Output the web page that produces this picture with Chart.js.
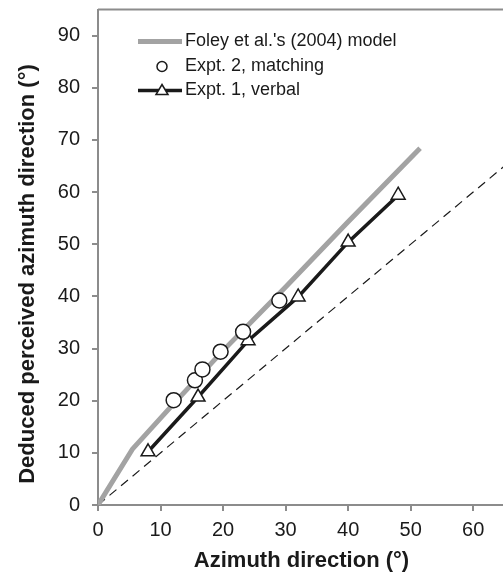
<!DOCTYPE html>
<html>
<head>
<meta charset="utf-8">
<script src="https://cdn.jsdelivr.net/npm/chart.js@4"></script>
<style>
  html, body { margin: 0; padding: 0; background: #fff; overflow: hidden; }
  #wrap { width: 503px; height: 574px; overflow: hidden; }
</style>
</head>
<body>
<div id="wrap"><canvas id="c" width="514" height="574"></canvas></div>
<script>
// ---- data ----
const xTicks = [0, 10, 20, 30, 40, 50, 60];
const yTicks = [0, 10, 20, 30, 40, 50, 60, 70, 80, 90];

const modelX = [0, 5.5, 12, 20, 30, 40, 51.5];          // Foley et al.'s (2004) model
const modelY = [0, 10.7, 19.3, 29.6, 41.8, 54.3, 68.4];

const matchX = [12.1, 15.5, 16.7, 19.6, 23.2, 29.0];    // Expt. 2, matching
const matchY = [20.1, 23.9, 26.0, 29.4, 33.2, 39.2];

const verbalX = [8, 16, 24, 32, 40, 48];                // Expt. 1, verbal
const verbalY = [10.2, 20.7, 31.5, 39.9, 50.4, 59.4];

const identX = [0, 65];                                  // y = x reference
const identY = [0, 65];

const AXIS = "#8c8c8c";
const INK = "#1a1a1a";
const FONT = "'Liberation Sans', Arial, sans-serif";

const pts = (xs, ys) => xs.map((x, i) => ({ x, y: ys[i] }));

// frame, axis titles and legend drawn on top of the chart
const decor = {
    id: "decor",
    afterDraw(chart) {
        const { ctx, chartArea: a } = chart;
        ctx.save();
        ctx.strokeStyle = AXIS;
        ctx.lineWidth = 2;
        ctx.beginPath();
        ctx.moveTo(a.left, a.top);
        ctx.lineTo(a.right, a.top);
        ctx.lineTo(a.right, a.bottom);
        ctx.stroke();

        // axis titles
        ctx.fillStyle = INK;
        ctx.font = "bold 22px " + FONT;
        ctx.textAlign = "center";
        ctx.textBaseline = "alphabetic";
        ctx.fillText("Azimuth direction (°)", (a.left + 505) / 2, 567);
        ctx.save();
        ctx.translate(34, 274);
        ctx.rotate(-Math.PI / 2);
        ctx.fillText("Deduced perceived azimuth direction (°)", 0, 0);
        ctx.restore();

        // legend
        const rows = [41.5, 66.5, 90.5];
        ctx.font = "18px " + FONT;
        ctx.textAlign = "left";
        ctx.textBaseline = "middle";
        ctx.lineCap = "butt";

        ctx.strokeStyle = "#a3a3a3";
        ctx.lineWidth = 5;
        ctx.beginPath(); ctx.moveTo(138, rows[0]); ctx.lineTo(182, rows[0]); ctx.stroke();
        ctx.fillText("Foley et al.'s (2004) model", 185, rows[0]);

        ctx.strokeStyle = INK;
        ctx.lineWidth = 1.5;
        ctx.beginPath(); ctx.arc(162, rows[1], 5, 0, Math.PI * 2);
        ctx.fillStyle = "#fff"; ctx.fill(); ctx.stroke();
        ctx.fillStyle = INK;
        ctx.fillText("Expt. 2, matching", 185, rows[1]);

        ctx.lineWidth = 3.5;
        ctx.beginPath(); ctx.moveTo(138, rows[2]); ctx.lineTo(182, rows[2]); ctx.stroke();
        ctx.lineWidth = 1.5;
        ctx.beginPath();
        ctx.moveTo(162, rows[2] - 6);
        ctx.lineTo(168, rows[2] + 4);
        ctx.lineTo(156, rows[2] + 4);
        ctx.closePath();
        ctx.fillStyle = "#fff"; ctx.fill(); ctx.stroke();
        ctx.fillStyle = INK;
        ctx.fillText("Expt. 1, verbal", 185, rows[2]);
        ctx.restore();
    }
};

function keepTicks(list) {
    return (scale) => { scale.ticks = list.map((v) => ({ value: v })); };
}

new Chart(document.getElementById("c").getContext("2d"), {
    type: "scatter",
    data: {
        datasets: [
            {
                label: "Expt. 2, matching", data: pts(matchX, matchY), order: 1,
                showLine: false, pointStyle: "circle", pointRadius: 7.5,
                pointBackgroundColor: "#fff", pointBorderColor: INK, pointBorderWidth: 1.5
            },
            {
                label: "Expt. 1, verbal", data: pts(verbalX, verbalY), order: 2,
                showLine: true, borderColor: INK, borderWidth: 3.5,
                pointStyle: "triangle", pointRadius: 8,
                pointBackgroundColor: "#fff", pointBorderColor: INK, pointBorderWidth: 1.5
            },
            {
                label: "Foley et al.'s (2004) model", data: pts(modelX, modelY), order: 3,
                showLine: true, borderColor: "#a3a3a3", borderWidth: 5, pointRadius: 0
            },
            {
                label: "identity", data: pts(identX, identY), order: 4,
                showLine: true, borderColor: INK, borderWidth: 1.2, borderDash: [9, 6], pointRadius: 0
            }
        ]
    },
    options: {
        responsive: false, animation: false,
        layout: { padding: { left: 0, top: 9, right: 5, bottom: 0 } },
        plugins: { legend: { display: false }, tooltip: { enabled: false } },
        scales: {
            x: {
                type: "linear", min: 0, max: 65,
                afterBuildTicks: keepTicks(xTicks),
                afterFit: (s) => { s.height = 69; s.paddingLeft = 0; s.paddingRight = 0; },
                grid: { drawOnChartArea: false, drawTicks: true, tickLength: 6, color: AXIS, lineWidth: 2 },
                border: { color: AXIS, width: 2 },
                ticks: { color: INK, font: { family: FONT, size: 20 }, padding: 7, maxRotation: 0 }
            },
            y: {
                type: "linear", min: 0, max: 95,
                afterBuildTicks: keepTicks(yTicks),
                afterFit: (s) => { s.width = 98; s.paddingTop = 0; s.paddingBottom = 0; },
                grid: { drawOnChartArea: false, drawTicks: true, tickLength: 6, color: AXIS, lineWidth: 2 },
                border: { color: AXIS, width: 2 },
                ticks: { color: INK, font: { family: FONT, size: 20 }, padding: 12 }
            }
        }
    },
    plugins: [decor]
});
</script>
</body>
</html>
